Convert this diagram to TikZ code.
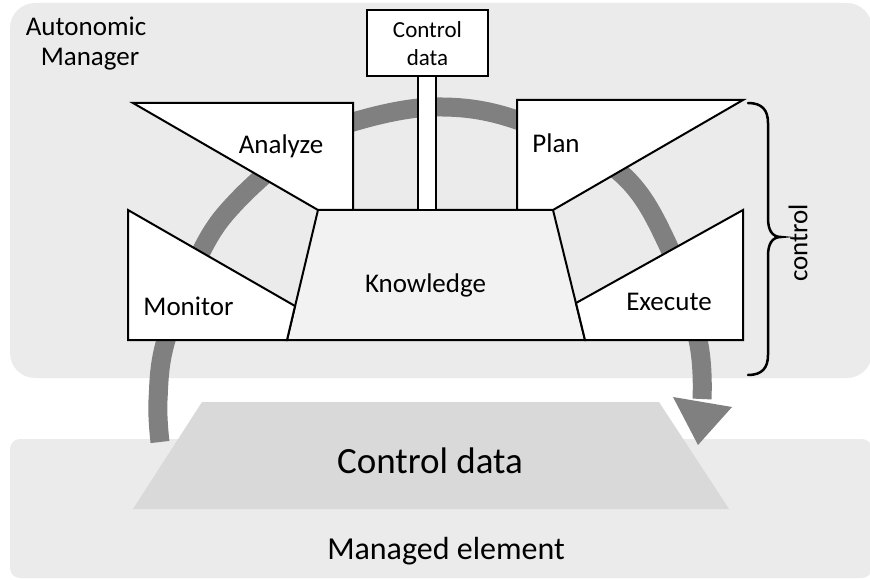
\documentclass[tikz,border=0pt]{standalone}
\usepackage{fontspec}
\setmainfont{Carlito}
\usetikzlibrary{arrows.meta}
\definecolor{bggray}{HTML}{EBEBEB}
\definecolor{kgray}{HTML}{F2F2F2}
\definecolor{dgray}{HTML}{D9D9D9}
\definecolor{agray}{HTML}{808080}
\begin{document}
\begin{tikzpicture}[x=1pt,y=-1pt,
  part/.style={draw=black, line width=2pt, fill=white, line join=miter},
  lbl/.style={font=\fontsize{27}{30}\selectfont, anchor=base, inner sep=0pt},
  small/.style={font=\fontsize{23}{28}\selectfont, anchor=base, inner sep=0pt},
  loopband/.style={draw=agray, line width=19pt},
  bracepath/.style={draw=black, line width=2.5pt, line cap=round},
]
\useasboundingbox (0,0) rectangle (870,580);
% panels
\fill[bggray, rounded corners=25pt] (10,3) rectangle (872,378);
\fill[bggray, rounded corners=10pt] (10,439) rectangle (872,578);
% control data trapezoid of managed element
\fill[dgray] (202,402) -- (659,402) -- (729,509) -- (133,509) -- cycle;
\node[lbl, font=\fontsize{37}{40}\selectfont] (cdbig) at (430,473) {Control data};
\node[lbl, font=\fontsize{32}{36}\selectfont] (me) at (446,559) {Managed element};
% loop band
\draw[loopband] plot[smooth, tension=0.6] coordinates {(160,442) (158,400) (166,340) (202,250) (238,200) (300,147) (353,122) (435,107) (517,120) (617,170) (667,243) (698,340) (702,399)};
\fill[agray] (673,397) -- (732,407) -- (698,445) -- cycle;
% knowledge
\draw[part, fill=kgray] (318,210) -- (553,210) -- (585,340) -- (287,340) -- cycle;
% MAPE parts
\draw[part] (133,103) -- (353,103) -- (353,210) -- (318,210) -- cycle;
\draw[part] (517,100) -- (743,100) -- (553,210) -- (517,210) -- cycle;
\draw[part] (128,210) -- (295,306) -- (287,340) -- (128,340) -- cycle;
\draw[part] (743,210) -- (743,340) -- (585,340) -- (576,303) -- cycle;
% control data box with stem
\draw[part] (418,76) rectangle (436,210);
\draw[part] (367,10) rectangle (488,76);
\node[small] (cd1) at (427.5,38) {Control};
\node[small] (cd2) at (427.5,66) {data};
% labels
\node[lbl] (am1) at (86,36) {Autonomic};
\node[lbl] (am2) at (90,66) {Manager};
\node[lbl] (an) at (281,154) {Analyze};
\node[lbl] (pl) at (556,153) {Plan};
\node[lbl] (mo) at (188.5,315) {Monitor};
\node[lbl] (ex) at (669,310) {Execute};
\node[lbl] (kn) at (425.5,292) {Knowledge};
% brace
\draw[bracepath] (748,103) .. controls (762,103) and (768,110) .. (768,123) -- (768,218)
  .. controls (768,230) and (772,237) .. (781,237)
  .. controls (772,237) and (768,244) .. (768,256) -- (768,355)
  .. controls (768,368) and (762,375) .. (748,375);
\node[font=\fontsize{27}{30}\selectfont, rotate=90, inner sep=0pt] (ctl) at (798,243) {control};
\end{tikzpicture}
\end{document}
